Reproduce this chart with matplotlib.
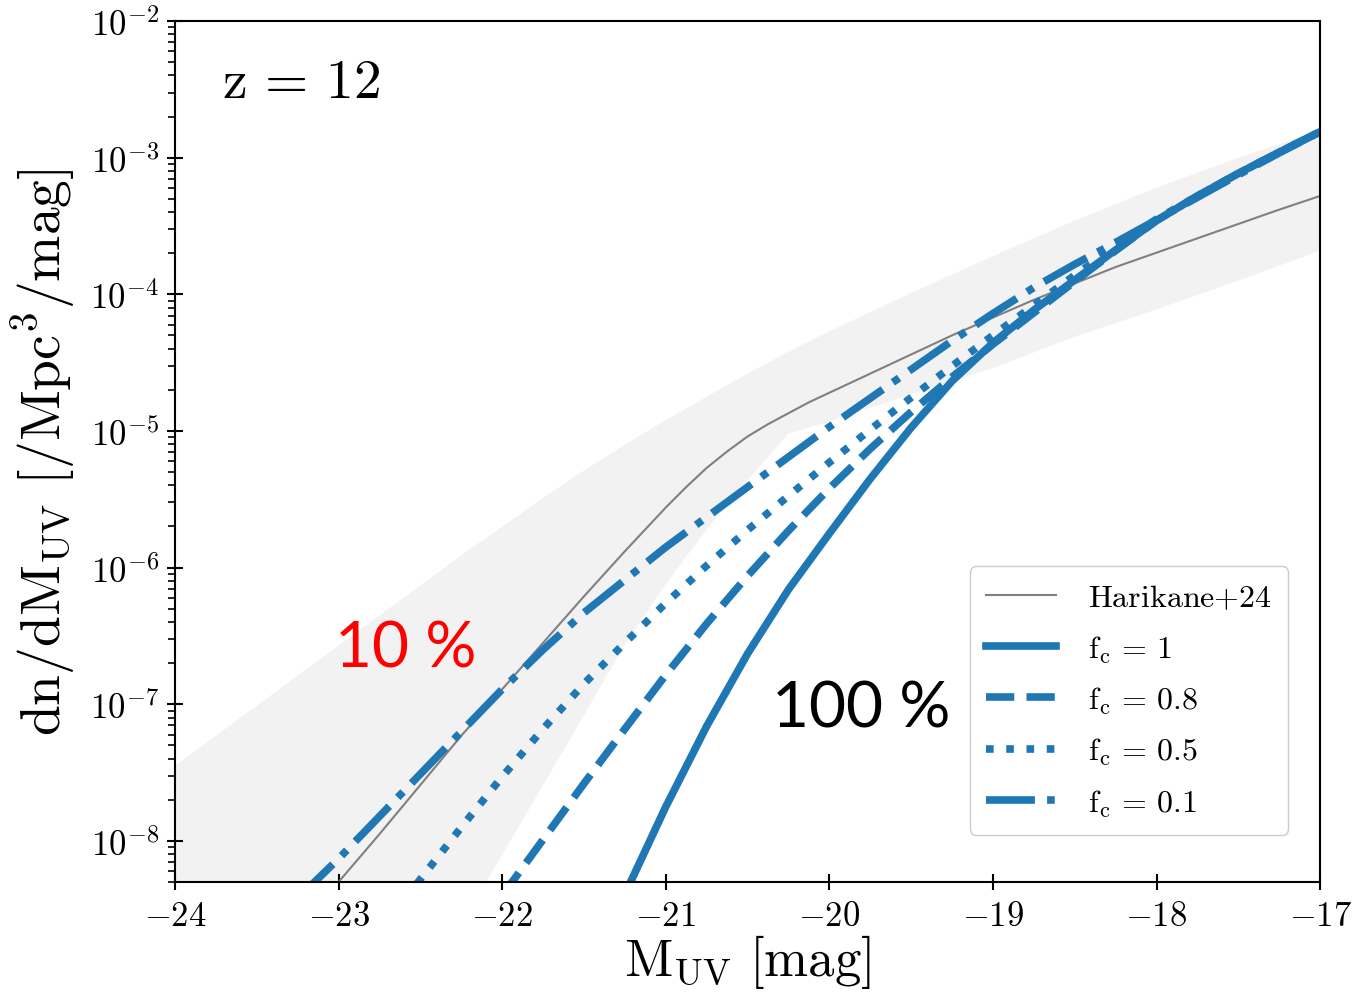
import numpy as np
import matplotlib
matplotlib.use("Agg")
import matplotlib.pyplot as plt
from matplotlib.ticker import FixedLocator, FuncFormatter, LogLocator, NullFormatter

plt.rcParams['mathtext.fontset'] = 'cm'
plt.rcParams['font.family'] = ['DejaVu Serif']

# log10(dn/dM_UV)
har_M = [-23.25, -23.0, -22.75, -22.5, -22.25, -22.0, -21.75, -21.5, -21.25, -21.0, -20.875, -20.75,
         -20.625, -20.5, -20.375, -20.25, -20.125, -20.0, -19.75, -19.5, -19.25, -19.0, -18.75, -18.5,
         -18.25, -18.0, -17.75, -17.5, -17.25, -17.0]
har_L = [-8.66, -8.30, -7.95, -7.59, -7.23, -6.89, -6.55, -6.21, -5.88, -5.56, -5.41, -5.27,
         -5.15, -5.04, -4.95, -4.87, -4.79, -4.72, -4.58, -4.44, -4.30, -4.17, -4.04, -3.92,
         -3.80, -3.695, -3.59, -3.485, -3.38, -3.28]

band_M = [-24.0, -23.5, -23.0, -22.5, -22.25, -22.0, -21.75, -21.5, -21.25, -21.0, -20.75, -20.5, -20.25,
          -20.0, -19.5, -19.0, -18.5, -18.0, -17.5, -17.0]
band_hi = [-7.45, -7.01, -6.57, -6.13, -5.91, -5.70, -5.49, -5.29, -5.10, -4.92, -4.75, -4.58, -4.42,
           -4.27, -3.99, -3.72, -3.46, -3.22, -3.00, -2.80]
band_lo = [-11.9, -10.9, -9.9, -9.10, -8.62, -8.10, -7.59, -7.08, -6.56, -6.12, -5.72, -5.36, -5.02,
           -4.93, -4.73, -4.54, -4.31, -4.11, -3.90, -3.68]

fc1_M = [-21.25, -21.0, -20.75, -20.5, -20.25, -20.0, -19.75, -19.5, -19.25, -19.0, -18.75, -18.5,
         -18.25, -18.0, -17.75, -17.5, -17.25, -17.0]
fc1_L = [-8.39, -7.75, -7.16, -6.63, -6.16, -5.75, -5.35, -4.975, -4.635, -4.355, -4.115, -3.895,
         -3.675, -3.46, -3.28, -3.115, -2.96, -2.81]

fc08_M = [-22.0, -21.75, -21.5, -21.25, -21.0, -20.75, -20.5, -20.25, -20.0, -19.75, -19.5, -19.25,
          -19.0, -18.75, -18.5, -18.25, -18.0, -17.75, -17.5, -17.25, -17.0]
fc08_L = [-8.40, -7.99, -7.58, -7.18, -6.785, -6.41, -6.06, -5.73, -5.42, -5.13, -4.86, -4.605,
          -4.365, -4.135, -3.905, -3.68, -3.46, -3.28, -3.115, -2.96, -2.81]

fc05_M = [-22.75, -22.5, -22.25, -22.0, -21.75, -21.5, -21.25, -21.0, -20.75, -20.5, -20.25, -20.0,
          -19.75, -19.5, -19.25, -19.0, -18.75, -18.5, -18.25, -18.0, -17.75, -17.5, -17.25, -17.0]
fc05_L = [-8.66, -8.28, -7.90, -7.53, -7.18, -6.85, -6.55, -6.26, -5.985, -5.725, -5.475, -5.23,
          -4.99, -4.755, -4.525, -4.30, -4.08, -3.86, -3.65, -3.45, -3.28, -3.115, -2.96, -2.81]

fc01_M = [-23.25, -23.0, -22.75, -22.5, -22.25, -22.0, -21.75, -21.5, -21.25, -21.0, -20.75, -20.5, -20.25,
          -20.0, -19.75, -19.5, -19.25, -19.0, -18.75, -18.5, -18.25, -18.0, -17.75, -17.5, -17.25, -17.0]
fc01_L = [-8.42, -8.13, -7.82, -7.51, -7.20, -6.89, -6.60, -6.33, -6.09, -5.85, -5.63, -5.41, -5.19,
          -4.97, -4.76, -4.55, -4.34, -4.14, -3.95, -3.78, -3.62, -3.455, -3.29, -3.125, -2.965, -2.81]

xticks = [-24, -23, -22, -21, -20, -19, -18, -17]

fig = plt.figure(figsize=(13.58, 10.03), dpi=100)
ax = fig.add_axes([0.1289, 0.1196, 0.8432, 0.8584])

blue = '#1f77b4'
lw = 5.5
ax.fill_between(band_M, 10**np.array(band_lo), 10**np.array(band_hi), color='gray', alpha=0.1, lw=0)
ax.plot(har_M, 10**np.array(har_L), color='gray', lw=1.5, label=r'$\mathrm{Harikane{+}24}$')
ax.plot(fc1_M, 10**np.array(fc1_L), color=blue, lw=lw, ls='-', label=r'$\mathrm{f_c}\,=\,1$')
ax.plot(fc08_M, 10**np.array(fc08_L), color=blue, lw=lw, ls='--', label=r'$\mathrm{f_c}\,=\,0.8$')
ax.plot(fc05_M, 10**np.array(fc05_L), color=blue, lw=lw, ls=':', label=r'$\mathrm{f_c}\,=\,0.5$')
ax.plot(fc01_M, 10**np.array(fc01_L), color=blue, lw=lw, ls='-.', label=r'$\mathrm{f_c}\,=\,0.1$')

ax.set_yscale('log')
ax.set_xlim(-24, -17)
ax.set_ylim(5e-9, 1e-2)

ax.xaxis.set_major_locator(FixedLocator(xticks))
ax.xaxis.set_major_formatter(FuncFormatter(lambda v, p: r'$%d$' % v))
ax.yaxis.set_major_locator(LogLocator(base=10, numticks=20))
ax.yaxis.set_major_formatter(FuncFormatter(lambda v, p: r'$10^{%d}$' % round(np.log10(v))))
ax.yaxis.set_minor_locator(LogLocator(base=10, subs=np.arange(2, 10), numticks=20))
ax.yaxis.set_minor_formatter(NullFormatter())
ax.tick_params(which='major', direction='inout', length=11, width=1.5, labelsize=25, pad=6)
ax.tick_params(which='minor', direction='out', length=5, width=1.2)
for s in ax.spines.values():
    s.set_linewidth(1.5)

ax.set_xlabel(r'$\mathrm{M_{UV}\ [mag]}$', fontsize=38, labelpad=0)
ax.set_ylabel(r'$\mathrm{dn/dM_{UV}\ [/Mpc^3/mag]}$', fontsize=40, labelpad=8)

ax.text(0.041, 0.912, r'$\mathrm{z}\,=\,12$', transform=ax.transAxes, fontsize=40, va='baseline')
ax.text(0.140, 0.250, '10 %', transform=ax.transAxes, fontsize=46, color='red',
        family='Lato', va='baseline')
ax.text(0.521, 0.181, '100 %', transform=ax.transAxes, fontsize=46, color='black',
        family='Lato', va='baseline')

ax.legend(loc='lower right', bbox_to_anchor=(0.972, 0.055), borderaxespad=0, fontsize=23,
          handlelength=2.2, labelspacing=0.62, borderpad=0.5, handletextpad=1.0, framealpha=1.0)

fig.savefig('out.png', dpi=100)
